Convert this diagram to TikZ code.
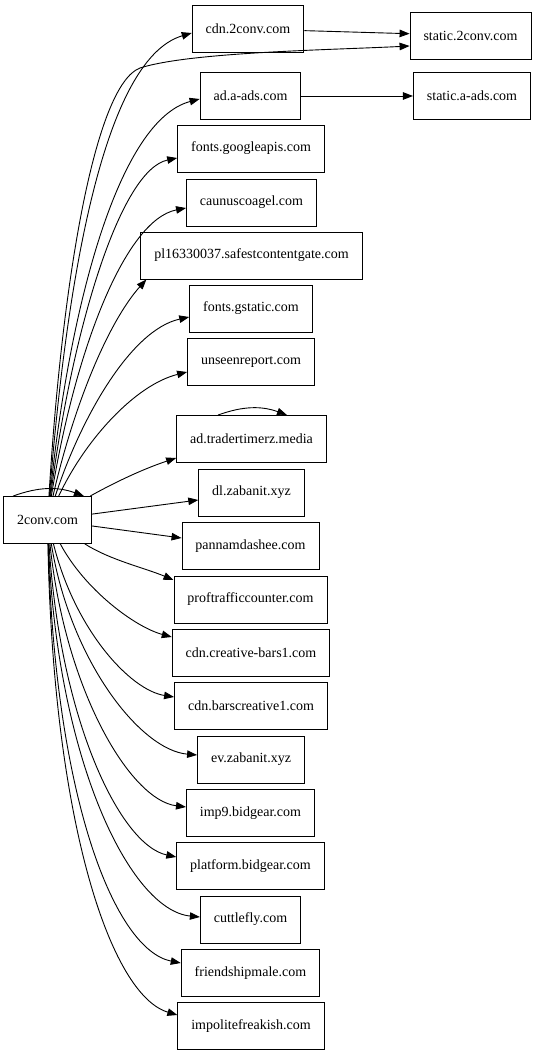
\documentclass[tikz,border=0pt]{standalone}
\usepackage{fontspec}
\setmainfont{Liberation Serif}
\usetikzlibrary{arrows.meta}

\begin{document}
\begin{tikzpicture}[x=1pt,y=1pt,
host/.style={draw,line width=0.9pt,minimum height=47pt,inner xsep=13.5pt,
font=\fontsize{14}{16}\selectfont},
arr/.style={-{Triangle[length=10pt,width=7.5pt]},line width=0.9pt}
]
\useasboundingbox (0,0) rectangle (539,-1056);
% hosts
\node[host] (conv) at (47.5,-520) {2conv.com};
\node[host] (cdnconv) at (248,-29) {cdn.2conv.com};
\node[host] (staticconv) at (470.5,-35.5) {static.2conv.com};
\node[host] (adads) at (250.5,-96) {ad.a-ads.com};
\node[host] (staticads) at (472,-96) {static.a-ads.com};
\node[host] (googleapis) at (251,-148.5) {fonts.googleapis.com};
\node[host] (caunus) at (251.5,-202.5) {caunuscoagel.com};
\node[host] (safest) at (251.5,-255.5) {pl16330037.safestcontentgate.com};
\node[host] (gstatic) at (251,-308.5) {fonts.gstatic.com};
\node[host] (unseen) at (251,-362) {unseenreport.com};
\node[host] (trader) at (251.5,-439) {ad.tradertimerz.media};
\node[host] (dlzab) at (251.5,-492.5) {dl.zabanit.xyz};
\node[host] (pannam) at (250.5,-546) {pannamdashee.com};
\node[host] (proftraffic) at (250.5,-599.5) {proftrafficcounter.com};
\node[host] (creativebars) at (251,-653) {cdn.creative-bars1.com};
\node[host] (barscreative) at (251,-706) {cdn.barscreative1.com};
\node[host] (evzab) at (251,-759.5) {ev.zabanit.xyz};
\node[host] (imp) at (250.5,-813) {imp9.bidgear.com};
\node[host] (platform) at (250.5,-866) {platform.bidgear.com};
\node[host] (cuttlefly) at (250.5,-919.5) {cuttlefly.com};
\node[host] (friendship) at (250.5,-973) {friendshipmale.com};
\node[host] (impolite) at (251,-1026) {impolitefreakish.com};
% requests going up
\draw[arr] (conv) .. controls (65,-300) and (100,-60) .. ([yshift=-4]cdnconv.west);
\draw[arr] (conv) .. controls (62,-280) and (95,-85) .. (140,-68)
  .. controls (190,-52) and (330,-50) .. ([yshift=-10.5]staticconv.west);
\draw[arr] (cdnconv) -- (staticconv);
\draw[arr] (conv) .. controls (70,-300) and (120,-120) .. ([yshift=-3]adads.west);
\draw[arr] (adads) -- (staticads);
\draw[arr] (conv) .. controls (72,-330) and (120,-170) .. ([yshift=-9.5]googleapis.west);
\draw[arr] (conv) .. controls (75,-350) and (125,-220) .. ([yshift=-5.5]caunus.west);
\draw[arr] (conv) .. controls (75,-400) and (110,-320) .. ([xshift=6]safest.south west);
\draw[arr] (conv) .. controls (80,-420) and (130,-330) .. ([yshift=-8.5]gstatic.west);
\draw[arr] (conv) .. controls (85,-440) and (135,-385) .. ([yshift=-10]unseen.west);
\draw[arr] (conv) .. controls (110,-485) and (140,-470) .. ([yshift=-19]trader.west);
\draw[arr] (trader.north) ++(-33.5,0) coordinate (tl)
  (tl) to[out=20,in=160] ([xshift=35.5]trader.north);
\draw[arr] ([xshift=10]conv.north west) to[out=20,in=160] ([xshift=-8]conv.north east);
% requests going across and down
\draw[arr] (conv) -- ([yshift=-7.5]dlzab.west);
\draw[arr] (conv) -- ([yshift=8]pannam.west);
\draw[arr] (conv) .. controls (110,-560) and (145,-568) .. ([yshift=19.5]proftraffic.west);
\draw[arr] (conv) .. controls (85,-590) and (135,-627) .. ([yshift=16]creativebars.west);
\draw[arr] (conv) .. controls (75,-630) and (130,-690) .. ([yshift=9]barscreative.west);
\draw[arr] (conv) .. controls (70,-660) and (140,-750) .. ([yshift=4.5]evzab.west);
\draw[arr] (conv) .. controls (65,-690) and (130,-800) .. ([yshift=6]imp.west);
\draw[arr] (conv) .. controls (60,-720) and (120,-845) .. ([yshift=9]platform.west);
\draw[arr] (conv) .. controls (57,-760) and (130,-910) .. ([yshift=2.5]cuttlefly.west);
\draw[arr] (conv) .. controls (55,-800) and (115,-950) .. ([yshift=10]friendship.west);
\draw[arr] (conv) .. controls (53,-820) and (110,-995) .. ([yshift=11]impolite.west);
\end{tikzpicture}
\end{document}
